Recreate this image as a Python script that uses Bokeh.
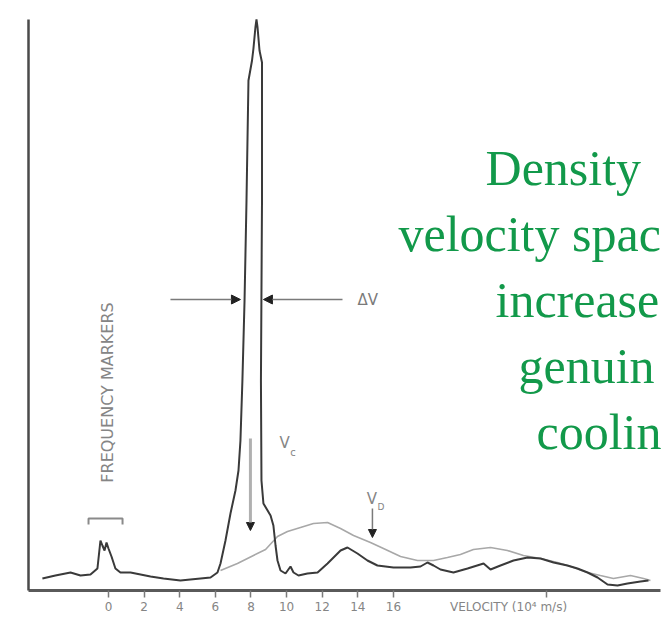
from bokeh.plotting import figure
from bokeh.models import Range1d, FixedTicker, Label, Arrow, NormalHead, LinearAxis
from bokeh.embed import file_html
from bokeh.resources import INLINE

# ---- data: velocity (10^4 m/s) vs. signal (arbitrary units) ----
cooled_v = [-3.71, -2.98, -2.13, -1.57, -1.01, -0.62, -0.45, -0.34, -0.22, -0.11, 0.0, 0.17,
            0.39, 0.67, 1.24, 1.80, 2.36, 3.09, 4.04, 4.60, 5.17, 5.73, 6.12, 6.29, 6.57,
            6.85, 7.13, 7.30, 7.41, 7.52, 7.64, 7.75, 7.86, 8.06, 8.14, 8.25, 8.31, 8.37,
            8.48, 8.62, 8.62, 8.56, 8.59, 8.70, 9.10, 9.26, 9.38, 9.49, 9.66, 9.94, 10.22,
            10.39, 10.67, 11.17, 11.74, 12.30, 13.03, 13.42, 13.98, 14.54, 15.10, 16.00,
            16.96, 17.52, 17.91, 18.25, 18.64, 19.37, 20.16, 21.06, 21.45, 22.01, 22.74,
            23.53, 24.26, 24.99, 25.77, 26.33, 26.90, 27.46, 28.02, 28.58, 29.14, 29.87, 30.32]
cooled_s = [12, 15, 18, 15, 16, 22, 50, 45, 40, 48, 42, 34,
            22, 18, 18, 16, 14, 12, 10, 11, 12, 13, 18, 27, 50,
            77, 100, 120, 150, 210, 290, 390, 510, 530, 542, 563, 571, 563,
            540, 528, 390, 210, 110, 87, 75, 65, 45, 30, 20, 17, 24,
            18, 15, 17, 18, 27, 40, 43, 37, 30, 25, 23,
            23, 24, 28, 25, 21, 18, 22, 27, 21, 25, 30,
            33, 32, 28, 25, 22, 18, 13, 6, 5, 7, 9, 10]

uncooled_v = [6.29, 7.24, 8.14, 8.82, 9.49, 10.05, 10.78, 11.51, 12.30, 13.03, 13.76, 14.71,
              15.44, 16.40, 17.35, 18.25, 19.03, 19.76, 20.49, 21.45, 22.40, 23.30, 24.26,
              25.21, 26.11, 26.90, 27.62, 28.35, 29.31, 30.04, 30.43]
uncooled_s = [20, 27, 35, 41, 54, 59, 63, 67, 68, 62, 55, 48,
              42, 34, 30, 30, 33, 36, 41, 43, 40, 35, 32,
              28, 23, 18, 15, 12, 15, 12, 10]

tick_values = [0, 2, 4, 6, 8, 10, 12, 14, 16]
tick_labels = ["0", "2", "4", "6", "8", "10", "12", "14", "16"]
extra_tick = 24.6
axis_title = "VELOCITY (10⁴ m/s)"
axis_title_pos = 22.46

slide_lines = ["Density", "velocity spac", "increase", "genuin", "coolin"]

GRAY = "#7a7a7a"
LABEL_GRAY = "#858585"

p = figure(width=661, height=616, output_backend="svg", toolbar_location=None,
           x_range=Range1d(-4.49, 31.05), y_range=Range1d(0, 590),
           min_border_left=28, min_border_right=0, min_border_top=0, min_border_bottom=26)
p.background_fill_color = "white"
p.border_fill_color = "white"
p.outline_line_color = None
p.grid.visible = False

# x axis: line and tick marks
xa = p.xaxis[0]
xa.ticker = FixedTicker(ticks=tick_values + [extra_tick])
xa.major_label_overrides = {t: "" for t in tick_values + [extra_tick]}
xa.major_label_text_font_size = "0px"
xa.major_label_standoff = 0
xa.bounds = (-4.49, 31.0)
xa.axis_line_color = "#5a5a5a"
xa.axis_line_width = 3
xa.major_tick_line_color = GRAY
xa.major_tick_line_width = 1.5
xa.major_tick_out = 7
xa.major_tick_in = 0
xa.minor_tick_line_color = None

# x axis: tick labels and the axis title on one line
labels = {t: l for t, l in zip(tick_values, tick_labels)}
labels[axis_title_pos] = axis_title
xl = LinearAxis(ticker=FixedTicker(ticks=tick_values + [axis_title_pos]),
                major_label_overrides=labels,
                axis_line_color=None, major_tick_line_color=None, minor_tick_line_color=None,
                major_tick_out=0, major_tick_in=0, major_label_standoff=2,
                major_label_text_font="DejaVu Sans", major_label_text_font_size="12px",
                major_label_text_color=LABEL_GRAY)
p.add_layout(xl, "below")

# y axis (line only)
ya = p.yaxis[0]
ya.ticker = FixedTicker(ticks=[])
ya.bounds = (0, 571)
ya.axis_line_color = "#4a4a4a"
ya.axis_line_width = 2.5
ya.major_tick_line_color = None
ya.minor_tick_line_color = None
ya.major_label_text_font_size = "0px"

# curves
p.line(uncooled_v, uncooled_s, line_color="#a8a8a8", line_width=1.6)
p.line(cooled_v, cooled_s, line_color="#3a3a3a", line_width=2.0)

# frequency markers annotation
p.add_layout(Label(x=-0.06, y=198, text="FREQUENCY MARKERS", angle=90, angle_units="deg",
                   text_font="DejaVu Sans", text_font_size="16px", text_color=LABEL_GRAY,
                   text_align="center", text_baseline="middle"))
p.line([-1.12, -1.12, 0.79, 0.79], [66, 72, 72, 66], line_color="#8a8a8a", line_width=2)

# delta V arrows
p.add_layout(Arrow(x_start=3.48, y_start=291, x_end=7.41, y_end=291,
                   line_color=GRAY, line_width=1.5,
                   end=NormalHead(size=9, fill_color="#222", line_color="#222")))
p.add_layout(Arrow(x_start=13.14, y_start=291, x_end=8.70, y_end=291,
                   line_color=GRAY, line_width=1.5,
                   end=NormalHead(size=9, fill_color="#222", line_color="#222")))
p.add_layout(Label(x=13.98, y=291, text="ΔV", text_font="DejaVu Sans", text_font_size="15px",
                   text_color=GRAY, text_baseline="middle"))

# V_c arrow
p.add_layout(Arrow(x_start=7.97, y_start=152, x_end=7.97, y_end=60,
                   line_color="#b0b0b0", line_width=3,
                   end=NormalHead(size=8, fill_color="#222", line_color="#222")))
p.add_layout(Label(x=9.6, y=148, text="V", text_font="DejaVu Sans", text_font_size="15px",
                   text_color=LABEL_GRAY, text_baseline="alphabetic"))
p.add_layout(Label(x=10.2, y=138, text="c", text_font="DejaVu Sans", text_font_size="10px",
                   text_color=LABEL_GRAY, text_baseline="alphabetic"))

# V_D arrow
p.add_layout(Arrow(x_start=14.82, y_start=82, x_end=14.82, y_end=53,
                   line_color=GRAY, line_width=1.5,
                   end=NormalHead(size=8, fill_color="#222", line_color="#222")))
p.add_layout(Label(x=14.5, y=92, text="V", text_font="DejaVu Sans", text_font_size="15px",
                   text_color=LABEL_GRAY, text_baseline="alphabetic"))
p.add_layout(Label(x=15.1, y=84, text="D", text_font="DejaVu Sans", text_font_size="9px",
                   text_color=LABEL_GRAY, text_baseline="alphabetic"))

# green slide text
slide_x = [21.17, 16.28, 21.73, 23.02, 24.03]
slide_y = [423, 357, 291, 225, 159]
for t, x, y in zip(slide_lines, slide_x, slide_y):
    p.add_layout(Label(x=x, y=y, text=t, text_font="Liberation Serif", text_font_size="50px",
                       text_color="#12994a", text_baseline="alphabetic"))

open("out.html", "w").write(file_html(p, INLINE))
